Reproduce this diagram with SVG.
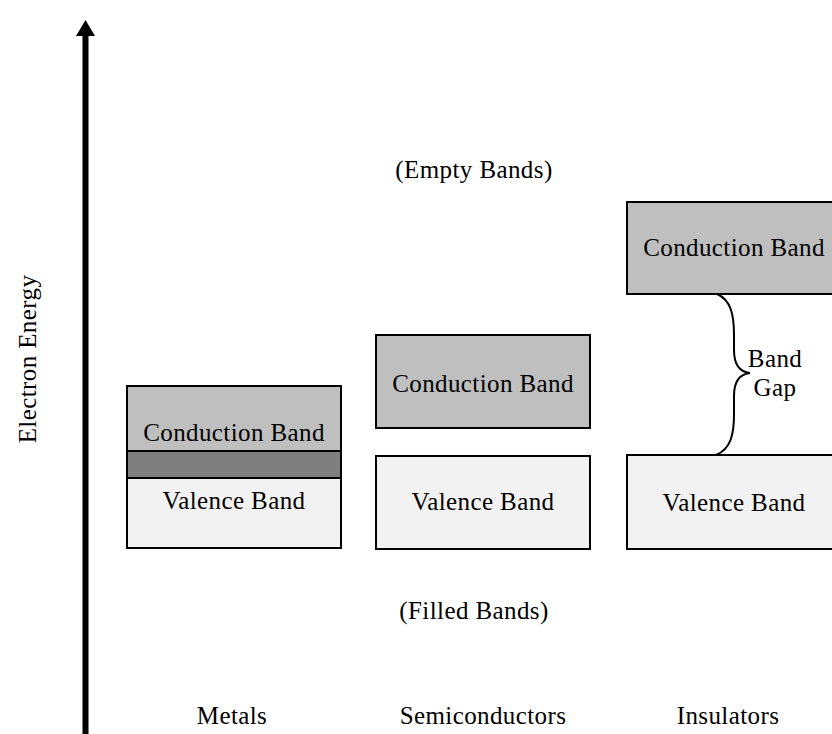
<svg xmlns="http://www.w3.org/2000/svg" width="832" height="734" viewBox="0 0 832 734">
<style>
text{font-family:"Liberation Serif","Times New Roman",serif;font-size:25px;fill:#000;text-anchor:middle;letter-spacing:0.4px}
.cb{fill:#bfbfbf;stroke:#000;stroke-width:2}
.vb{fill:#f2f2f2;stroke:#000;stroke-width:2}
.ov{fill:#7f7f7f;stroke:#000;stroke-width:2}
</style>
<rect width="832" height="734" fill="#fff"/>
<g id="axis">
<rect x="82.5" y="32" width="6" height="702" fill="#000"/>
<polygon points="85.5,20 76,36 95,36" fill="#000"/>
<text transform="translate(36,359) rotate(-90)">Electron Energy</text>
</g>
<g id="labels">
<text x="474" y="178">(Empty Bands)</text>
<text x="474" y="619">(Filled Bands)</text>
<text x="232" y="724">Metals</text>
<text x="483" y="724">Semiconductors</text>
<text x="728" y="724">Insulators</text>
</g>
<g id="metals">
<rect class="cb" x="127" y="386" width="214" height="65"/>
<rect class="vb" x="127" y="478" width="214" height="70"/>
<rect class="ov" x="127" y="451" width="214" height="27"/>
<text x="234" y="441">Conduction Band</text>
<text x="234" y="509">Valence Band</text>
</g>
<g id="semiconductors">
<rect class="cb" x="376" y="335" width="214" height="93"/>
<rect class="vb" x="376" y="456" width="214" height="93"/>
<text x="483" y="392">Conduction Band</text>
<text x="483" y="510">Valence Band</text>
</g>
<g id="insulators">
<rect class="cb" x="627" y="202" width="214" height="92"/>
<rect class="vb" x="627" y="455" width="214" height="94"/>
<text x="734" y="256">Conduction Band</text>
<text x="734" y="511">Valence Band</text>
</g>
<g id="connectors">
<path d="M717,294 C731,300 734,315 734,335 L734,350 C734,365 740,372 750,373 C740,374 734,381 734,396 L734,414 C734,434 731,449 716,455" fill="none" stroke="#000" stroke-width="2"/>
<text x="775" y="367">Band</text>
<text x="775" y="396">Gap</text>
</g>
</svg>
